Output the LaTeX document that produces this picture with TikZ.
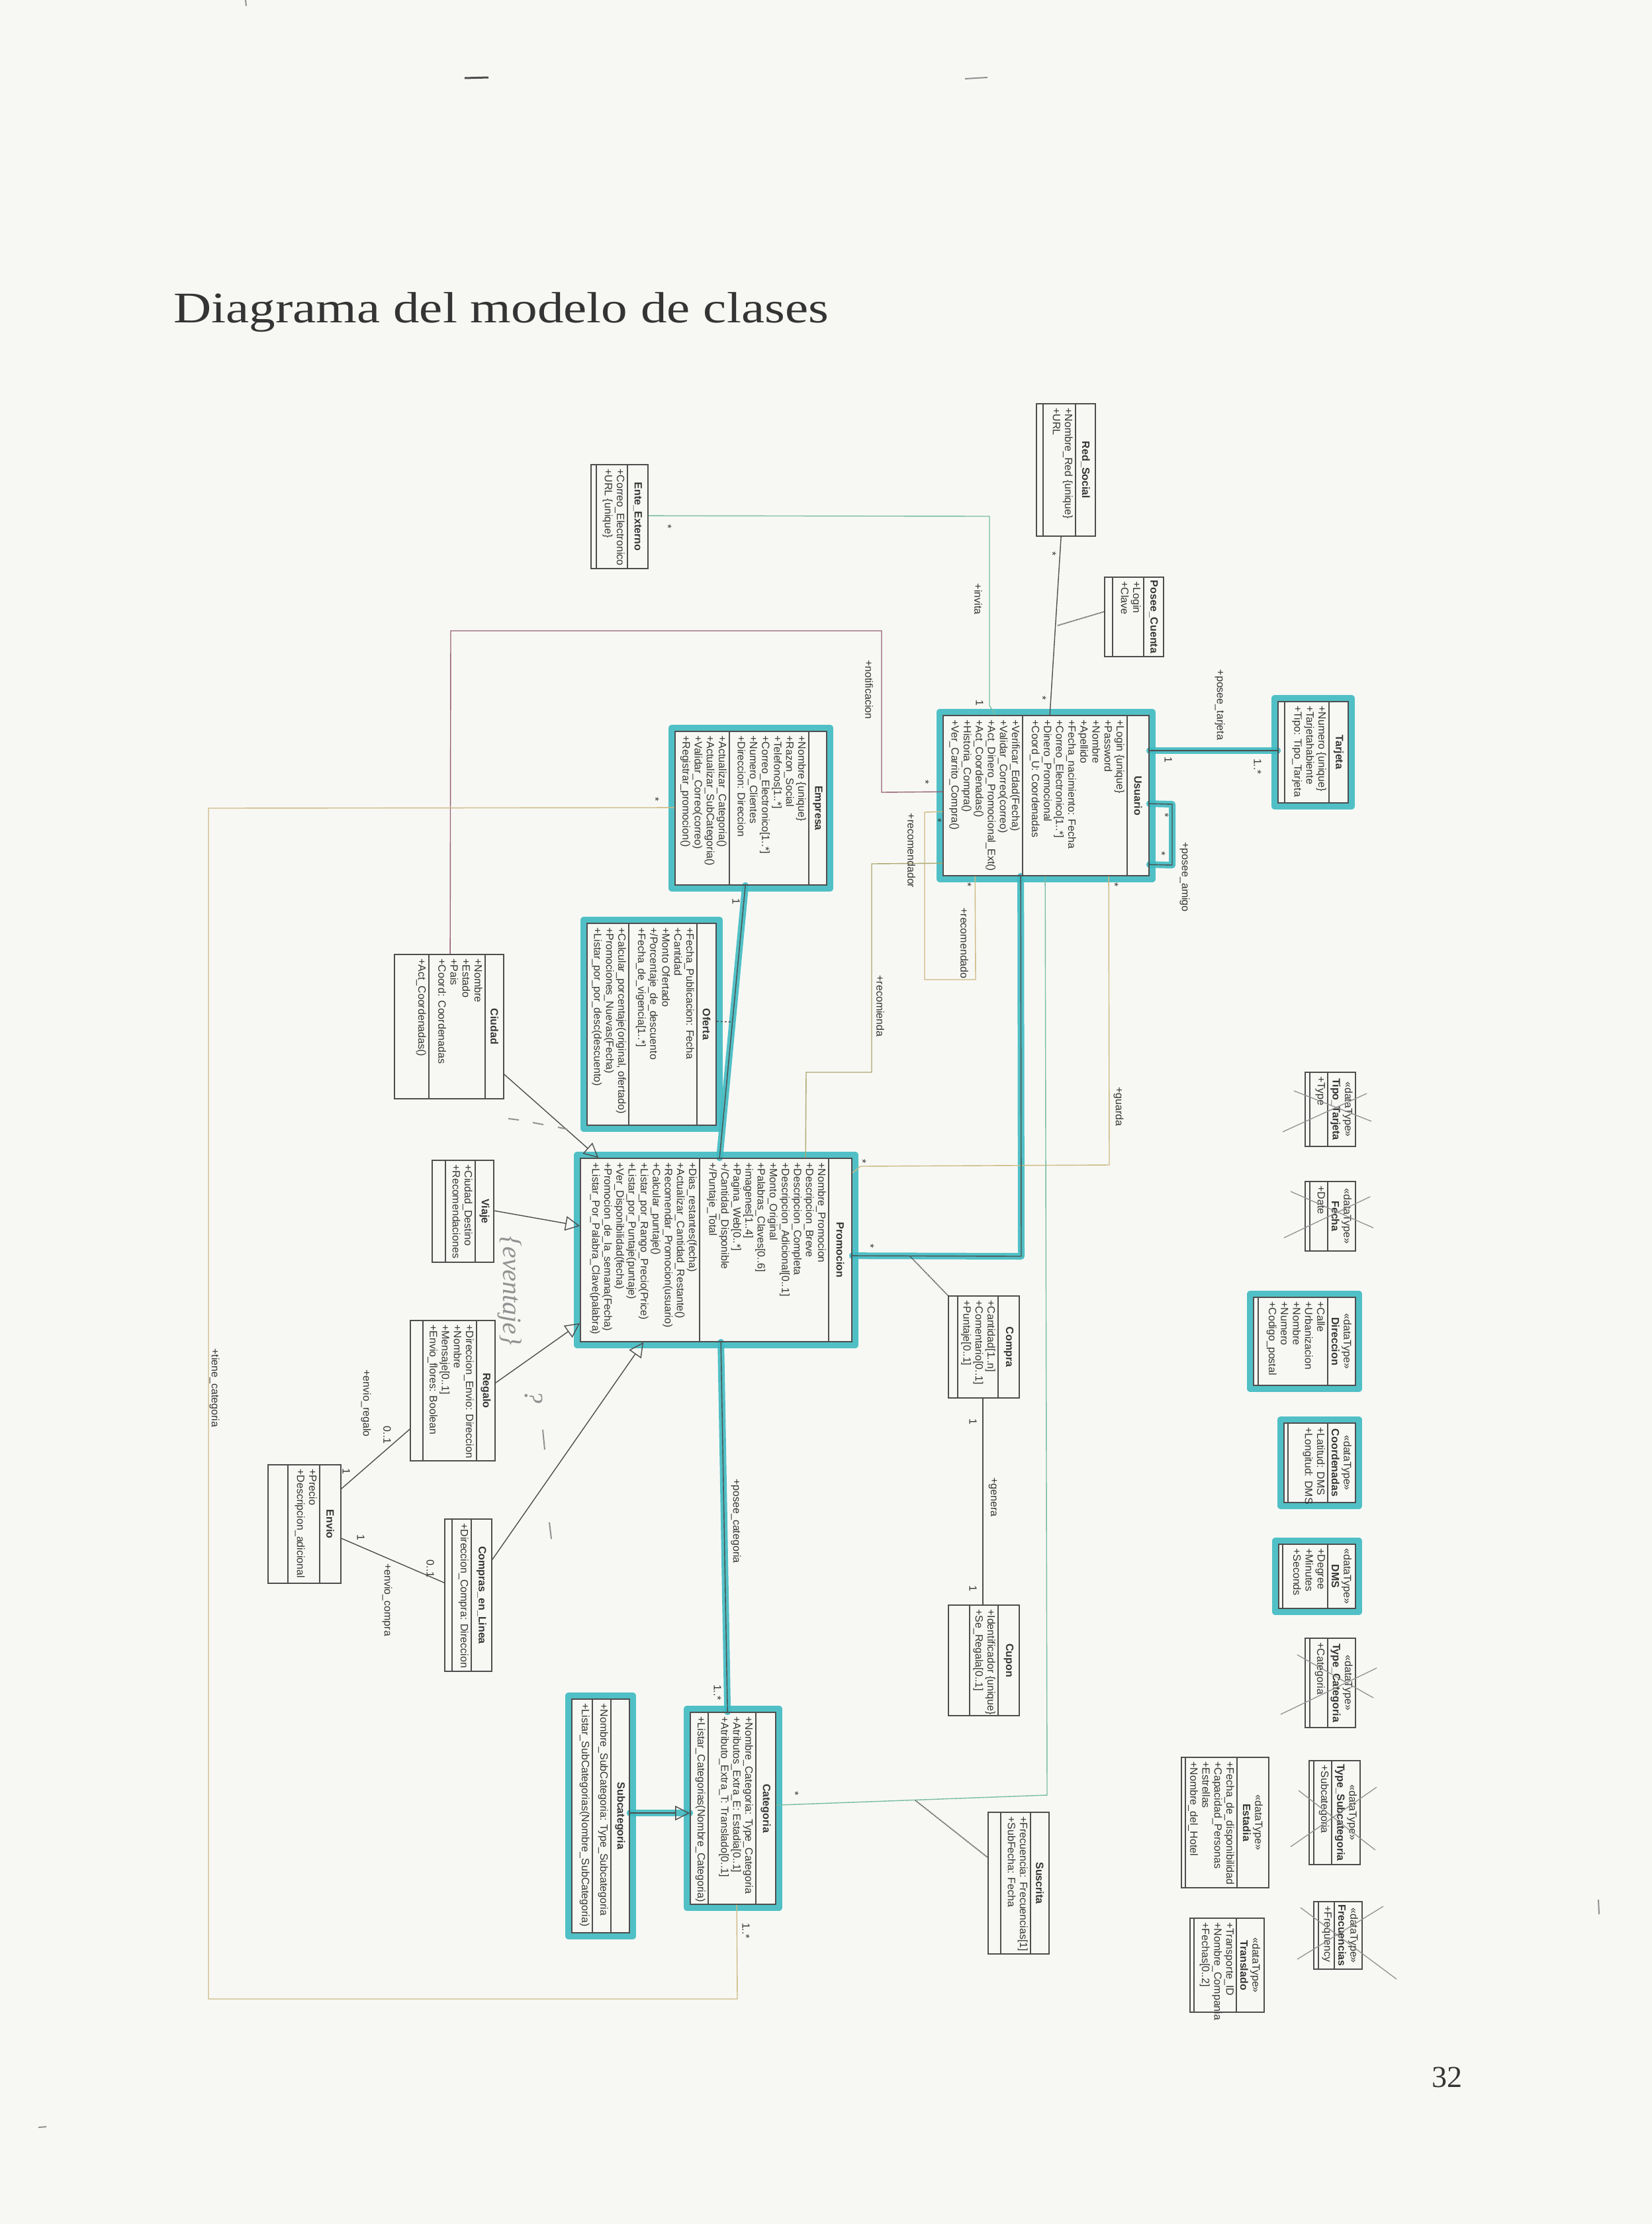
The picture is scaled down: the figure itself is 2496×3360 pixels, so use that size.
\documentclass[tikz,border=0pt]{standalone}
\usepackage{fontspec}
\setmainfont{Liberation Sans}
\newfontfamily\ttlfont{Liberation Serif}
\usetikzlibrary{fit,arrows.meta}
\definecolor{paper}{RGB}{247,248,244}
\definecolor{boxc}{RGB}{78,78,78}
\definecolor{txtc}{RGB}{52,52,52}
\definecolor{hlc}{RGB}{62,186,194}
\definecolor{grnc}{RGB}{120,188,165}
\definecolor{marc}{RGB}{150,95,118}
\definecolor{tanc}{RGB}{205,185,130}
\definecolor{olvc}{RGB}{170,168,110}
\definecolor{pencil}{RGB}{145,145,145}
\pgfdeclarelayer{back}
\pgfdeclarelayer{hl}
\pgfsetlayers{back,hl,main}
\newcommand\fs{\fontsize{16}{18.3}\selectfont}
\tikzset{
  clsbox/.style={draw=boxc, line width=1.7, inner sep=0pt},
  sepline/.style={draw=boxc, line width=1.3},
  rtext/.style={rotate=-90, inner sep=0pt, text=txtc, font=\fs},
  ttext/.style={rtext, font=\fs\bfseries, align=center},
  conn/.style={draw=boxc, line width=1.4},
  hlbox/.style={draw=hlc, line width=11, line join=round, opacity=.9},
  hlline/.style={draw=hlc, line width=10, line cap=round, line join=round, opacity=.9},
  gen/.style={-{Triangle[open,length=22pt,width=22pt]}},
  pen/.style={draw=pencil, line width=1.3},
  pentext/.style={rotate=-90, inner sep=0pt, text=pencil, font=\ttlfont\itshape\fontsize{40}{44}\selectfont},
}
\newcommand\umlclass[9]{%
  \node[clsbox, fit={(#2,#3)(#4,#5)}] (#1) {};
  \draw[sepline] (#6,#3) -- (#6,#5);
  \draw[sepline] (#7,#3) -- (#7,#5);
  \node[ttext] (#1-n) at ({(#4+#6)/2},{(#3+#5)/2}) {#8};
  \node[rtext, anchor=north west, align=left] (#1-a) at ({#6-4},{#3+6}) {#9};
}
\newcommand\umlops[4]{%
  \node[rtext, anchor=north west, align=left] (#1-o) at ({#2-4},{#3+6}) {#4};
}
\newcommand\hlrect[1]{%
  \draw[hlbox] ([shift={(-4,4)}]#1.south west) rectangle ([shift={(4,-4)}]#1.north east);
}
\begin{document}
\catcode`\_=12
\begin{tikzpicture}[x=1pt,y=-1pt]
\begin{pgfonlayer}{back}
\fill[paper] (0,0) rectangle (2496,3360);
\end{pgfonlayer}
\useasboundingbox (0,0) rectangle (2496,3360);

% title and page number
\node[font=\ttlfont\fontsize{66}{70}\selectfont, text=txtc, anchor=base west, inner sep=0pt, xscale=1.2] (title) at (262,487) {Diagrama del modelo de clases};
\node[font=\ttlfont\fontsize{46}{50}\selectfont, text=txtc, anchor=base west, inner sep=0pt] (pnum) at (2163,3153) {32};
\draw[boxc, line width=3] (702,118) -- (738,117);
\draw[pencil, line width=2] (1458,119) -- (1492,117);
\draw[pencil, line width=2] (371,0) -- (372,9);
\draw[pencil, line width=2] (58,3214) -- (70,3213);
\draw[pencil, line width=2] (2415,2870) -- (2416,2892);

% classes
\umlclass{ente}{893}{702}{979}{859}{948}{901}{Ente_Externo}{+Correo_Electronico\\+URL \{unique\}}
\umlclass{redsocial}{1566}{610}{1655}{810}{1625}{1576}{Red_Social}{+Nombre_Red \{unique\}\\+URL}
\umlclass{poseecuenta}{1669}{872}{1758}{992}{1728}{1681}{Posee_Cuenta}{+Login\\+Clave}
\umlclass{tarjeta}{1931}{1060}{2037}{1213}{2008}{1941}{Tarjeta}{+Numero \{unique\}\\+Tarjetahabiente\\+Tipo: Tipo_Tarjeta}
\umlclass{usuario}{1425}{1081}{1736}{1323}{1703}{1545}{Usuario}{+Login \{unique\}\\+Password\\+Nombre\\+Apellido\\+Fecha_nacimiento: Fecha\\+Correo_Electronico[1..*]\\+Dinero_Promocional\\+Coord_U: Coordenadas}
\umlops{usuario}{1545}{1081}{+Verificar_Edad(Fecha)\\+Validar_Correo(correo)\\+Act_Dinero_Promocional_Ext()\\+Act_Coordenadas()\\+Historia_Compra()\\+Ver_Carrito_Compra()}
\umlclass{empresa}{1020}{1105}{1249}{1337}{1222}{1102}{Empresa}{+Nombre \{unique\}\\+Razon_Social\\+Telefonos[1..*]\\+Correo_Electronico[1..*]\\+Numero_Clientes\\+Direccion: Direccion}
\umlops{empresa}{1102}{1105}{+Actualizar_Categoria()\\+Actualizar_SubCategoria()\\+Validar_Correo(correo)\\+Registrar_promocion()}
\umlclass{oferta}{887}{1395}{1082}{1700}{1053}{950}{Oferta}{+Fecha_Publicacion: Fecha\\+Cantidad\\+Monto Ofertado\\+/Porcentaje_de_descuento\\+Fecha_de_vigencia[1..*]}
\umlops{oferta}{950}{1395}{+Calcular_porcentaje(original, ofertado)\\+Promociones_Nuevas(Fecha)\\+Listar_por_por_desc(descuento)}
\umlclass{ciudad}{596}{1442}{761}{1660}{733}{648}{Ciudad}{+Nombre\\+Estado\\+Pais\\+Coord: Coordenadas}
\umlops{ciudad}{648}{1442}{+Act_Coordenadas()}
\umlclass{viaje}{653}{1753}{746}{1907}{718}{673}{Viaje}{+Ciudad_Destino\\+Recomendaciones}
\umlclass{regalo}{620}{1995}{748}{2207}{720}{639}{Regalo}{+Direccion_Envio: Direccion\\+Nombre\\+Mensaje[0..1]\\+Envio_flores: Boolean}
\umlclass{promocion}{877}{1750}{1287}{2027}{1252}{1057}{Promocion}{+Nombre_Promocion\\+Descripcion_Breve\\+Descripcion_Completa\\+Descripcion_Adicional[0..1]\\+Monto_Original\\+Palabras_Claves[0..6]\\+imagenes[1..4]\\+Pagina_Web[0..*]\\+/Cantidad_Disponible\\+/Puntaje_Total}
\umlops{promocion}{1057}{1750}{+Dias_restantes(fecha)\\+Actualizar_Cantidad_Restante()\\+Recomendar_Promocion(usuario)\\+Calcular_puntaje()\\+Listar_por_Rango_Precio(Price)\\+Listar_por_Puntaje(puntaje)\\+Ver_Disponibilidad(fecha)\\+Promocion_de_la_semana(Fecha)\\+Listar_Por_Palabra_Clave(palabra)}
\umlclass{compra}{1433}{1958}{1540}{2112}{1508}{1447}{Compra}{+Cantidad[1..n]\\+Comentario[0..1]\\+Puntaje[0..1]}
\umlclass{cupon}{1433}{2425}{1540}{2592}{1508}{1465}{Cupon}{+Identificador \{unique\}\\+Se_Regala[0..1]}
\umlclass{envio}{405}{2213}{515}{2392}{483}{435}{Envio}{+Precio\\+Descripcion_adicional}
\umlclass{compraslinea}{672}{2295}{743}{2525}{712}{683}{Compras_en_Linea}{+Direccion_Compra: Direccion}
\umlclass{categoria}{1043}{2587}{1172}{2877}{1142}{1070}{Categoria}{+Nombre_Categoria: Type_Categoria\\+Atributos_Extra_E: Estadia[0..1]\\+Atributo_Extra_T: Translado[0..1]}
\umlops{categoria}{1070}{2587}{+Listar_Categorias(Nombre_Categoria)}
\umlclass{subcategoria}{864}{2567}{951}{2920}{923}{895}{Subcategoria}{+Nombre_SubCategoria: Type_Subcategoria}
\umlops{subcategoria}{895}{2567}{+Listar_SubCategorias(Nombre_SubCategoria)}
\umlclass{suscrita}{1493}{2738}{1585}{2952}{1557}{1512}{Suscrita}{+Frecuencia: Frecuencias[1]\\+SubFecha: Fecha}

% data types
\umlclass{tipotarjeta}{1972}{1620}{2048}{1732}{2006}{1979}{{\mdseries«dataType»}\\Tipo_Tarjeta}{+Type}
\umlclass{fecha}{1972}{1785}{2048}{1890}{2006}{1979}{{\mdseries«dataType»}\\Fecha}{+Date}
\umlclass{direccion}{1894}{1960}{2048}{2093}{2006}{1901}{{\mdseries«dataType»}\\Direccion}{+Calle\\+Urbanizacion\\+Nombre\\+Numero\\+Codigo_postal}
\umlclass{coordenadas}{1940}{2150}{2048}{2270}{2006}{1946}{{\mdseries«dataType»}\\Coordenadas}{+Latitud: DMS\\+Longitud: DMS}
\umlclass{dms}{1932}{2333}{2048}{2430}{2006}{1938}{{\mdseries«dataType»}\\DMS}{+Degree\\+Minutes\\+Seconds}
\umlclass{typecat}{1972}{2475}{2048}{2610}{2006}{1979}{{\mdseries«dataType»}\\Type_Categoria}{+Categoria}
\umlclass{typesubcat}{1978}{2660}{2055}{2817}{2012}{1985}{{\mdseries«dataType»}\\Type_Subcategoria}{+Subcategoria}
\umlclass{frecuencias}{1985}{2873}{2058}{2975}{2016}{1992}{{\mdseries«dataType»}\\Frecuencias}{+Frequency}
\umlclass{estadia}{1785}{2655}{1917}{2852}{1869}{1791}{{\mdseries«dataType»}\\Estadia}{+Fecha_de_disponibilidad\\+Capacidad_Personas\\+Estrellas\\+Nombre_del_Hotel}
\umlclass{translado}{1798}{2898}{1910}{3040}{1868}{1804}{{\mdseries«dataType»}\\Translado}{+Transporte_ID\\+Nombre_Compania\\+Fechas[0..2]}

% highlighter
\begin{pgfonlayer}{hl}
\foreach \b in {usuario,tarjeta,empresa,oferta,promocion,categoria,subcategoria,direccion,coordenadas,dms} {\hlrect{\b}}
\draw[hlline] ([shift={(0,54)}]usuario.north east) -- ([shift={(0,75)}]tarjeta.north west);
\draw[hlline] ([shift={(0,134)}]usuario.north east) -- (1771,1215) -- (1771,1307) -- ([shift={(0,226)}]usuario.north east);
\draw[hlline] ([shift={(107,0)}]empresa.south west) -- ([shift={(211,0)}]promocion.north west);
\draw[hlline] ([shift={(118,0)}]usuario.south west) -- (1543,1898) -- ([shift={(0,148)}]promocion.north east);
\draw[hlline] ([shift={(213,0)}]promocion.south west) -- ([shift={(57,0)}]categoria.north west);
\draw[hlline] ([shift={(0,173)}]subcategoria.north east) -- ([shift={(0,153)}]categoria.north west);
\end{pgfonlayer}

% connectors
\draw[conn, draw=grnc] ([shift={(0,78)}]ente.north east) -- (1495,780) -- (1495,1066) -- ([shift={(80,0)}]usuario.north west);
\draw[conn] ([shift={(38,0)}]redsocial.south west) -- ([shift={(162,0)}]usuario.north west);
\coordinate (pcj) at (1598,945);
\draw[conn, densely dotted, line width=1.8] ([shift={(0,53)}]poseecuenta.north west) -- (pcj);
\draw[conn] ([shift={(0,54)}]usuario.north east) -- ([shift={(0,75)}]tarjeta.north west);
\draw[conn] ([shift={(0,134)}]usuario.north east) -- (1771,1215) -- (1771,1307) -- ([shift={(0,226)}]usuario.north east);
\draw[conn, draw=marc] ([shift={(0,116)}]usuario.north west) -- (1332,1197) -- (1332,953) -- (681,953) -- ([shift={(85,0)}]ciudad.north west);
\draw[conn, draw=olvc] ([shift={(0,224)}]usuario.north west) -- (1317,1305) -- (1317,1620) -- (1218,1620) -- ([shift={(341,0)}]promocion.north west);
\draw[conn, draw=tanc] ([shift={(0,146)}]usuario.north west) -- (1397,1227) -- (1397,1480) -- (1474,1480) -- ([shift={(49,0)}]usuario.south west);
\draw[conn, draw=tanc] ([shift={(251,0)}]usuario.south west) -- (1676,1760) -- (1300,1762) -- ([shift={(0,23)}]promocion.north east);
\draw[conn] ([shift={(118,0)}]usuario.south west) -- (1543,1898) -- ([shift={(0,148)}]promocion.north east);
\coordinate (cpj) at (1375,1898);
\draw[conn, densely dotted, line width=1.8] (cpj) -- (compra.north west);
\draw[conn, draw=grnc] ([shift={(155,0)}]usuario.south west) -- (1582,2712) -- ([shift={(0,141)}]categoria.north east);
\coordinate (ssj) at (1383,2720);
\draw[conn, densely dotted, line width=1.8] (ssj) -- ([shift={(0,69)}]suscrita.north west);
\draw[conn, draw=tanc] ([shift={(0,116)}]empresa.north west) -- (315,1221) -- (315,3020) -- (1114,3020) -- ([shift={(71,0)}]categoria.south west);
\draw[conn] ([shift={(107,0)}]empresa.south west) -- ([shift={(211,0)}]promocion.north west);
\coordinate (ofj) at (1107,1544);
\draw[conn, dashed] ([shift={(0,149)}]oferta.north east) -- (ofj);
\draw[conn] ([shift={(213,0)}]promocion.south west) -- ([shift={(57,0)}]categoria.north west);
\draw[conn, gen] ([shift={(0,173)}]subcategoria.north east) -- ([shift={(0,153)}]categoria.north west);
\draw[conn] ([shift={(53,0)}]compra.south west) -- ([shift={(53,0)}]cupon.north west);
\draw[conn, gen] ([shift={(0,182)}]ciudad.north east) -- ([shift={(28,0)}]promocion.north west);
\draw[conn, gen] ([shift={(0,77)}]viaje.north east) -- ([shift={(0,103)}]promocion.north west);
\draw[conn, gen] ([shift={(0,95)}]regalo.north east) -- ([shift={(0,250)}]promocion.north west);
\draw[conn, gen] ([shift={(0,62)}]compraslinea.north east) -- ([shift={(96,0)}]promocion.south west);
\draw[conn] ([shift={(0,37)}]envio.north east) -- ([shift={(0,165)}]regalo.north west);
\draw[conn] ([shift={(0,112)}]envio.north east) -- ([shift={(0,97)}]compraslinea.north west);

% labels
\node[rtext] (l1) at (1009,796) {*};
\node[rtext] (l2) at (1480,1062) {1};
\node[rtext] (l3) at (1478,905) {+invita};
\node[rtext] (l4) at (1590,837) {*};
\node[rtext] (l5) at (1575,1055) {*};
\node[rtext] (l6) at (1765,1148) {1};
\node[rtext] (l7) at (1900,1158) {1..*};
\node[rtext] (l8) at (1843,1065) {+posee_tarjeta};
\node[rtext] (l9) at (1760,1232) {*};
\node[rtext] (l10) at (1755,1290) {*};
\node[rtext] (l11) at (1790,1325) {+posee_amigo};
\node[rtext] (l12) at (1398,1182) {*};
\node[rtext] (l13) at (1313,1042) {+notificacion};
\node[rtext] (l14) at (1377,1285) {+recomendador};
\node[rtext] (l15) at (1457,1425) {+recomendado};
\node[rtext] (l16) at (1330,1520) {+recomienda};
\node[rtext] (l17) at (1690,1672) {+guarda};
\node[rtext] (l18) at (1417,1240) {*};
\node[rtext] (l19) at (1462,1337) {*};
\node[rtext] (l20) at (1684,1337) {*};
\node[rtext] (l21) at (1315,1883) {*};
\node[rtext] (l22) at (1303,1755) {*};
\node[rtext] (l23) at (990,1208) {*};
\node[rtext] (l24) at (1112,1362) {1};
\node[rtext] (l25) at (1112,2298) {+posee_categoria};
\node[rtext] (l26) at (1084,2557) {1..*};
\node[rtext] (l27) at (1127,2917) {1..*};
\node[rtext] (l28) at (1201,2710) {*};
\node[rtext] (l29) at (324,2097) {+tiene_categoria};
\node[rtext] (l30) at (1500,2262) {+genera};
\node[rtext] (l31) at (1470,2148) {1};
\node[rtext] (l32) at (1470,2400) {1};
\node[rtext] (l33) at (523,2223) {1};
\node[rtext] (l34) at (585,2168) {0..1};
\node[rtext] (l35) at (553,2120) {+envio_regalo};
\node[rtext] (l36) at (545,2323) {1};
\node[rtext] (l37) at (650,2370) {0..1};
\node[rtext] (l38) at (585,2417) {+envio_compra};

% pencil crosses
\draw[pen] (1938,1710) -- (2065,1652); \draw[pen] (1955,1648) -- (2072,1694);
\draw[pen] (1940,1870) -- (2070,1808); \draw[pen] (1950,1800) -- (2075,1855);
\draw[pen] (1935,2590) -- (2080,2520); \draw[pen] (1960,2500) -- (2075,2565);
\draw[pen] (1950,2790) -- (2080,2700); \draw[pen] (1962,2705) -- (2078,2795);
\draw[pen] (1960,2960) -- (2090,2880); \draw[pen] (1965,2882) -- (2110,2990);

% pencil handwriting
\node[pentext] (hw1) at (770,1950) {\{eventaje\}};
\node[pentext] (hw2) at (806,2110) {?};
\draw[pen, line width=2] (768,1690) -- (784,1692);
\draw[pen, line width=2] (805,1696) -- (821,1699);
\draw[pen, line width=2] (843,1703) -- (857,1706);
\draw[pen, line width=2] (820,2160) -- (823,2190);
\draw[pen, line width=2] (830,2300) -- (833,2325);
\end{tikzpicture}
\end{document}
